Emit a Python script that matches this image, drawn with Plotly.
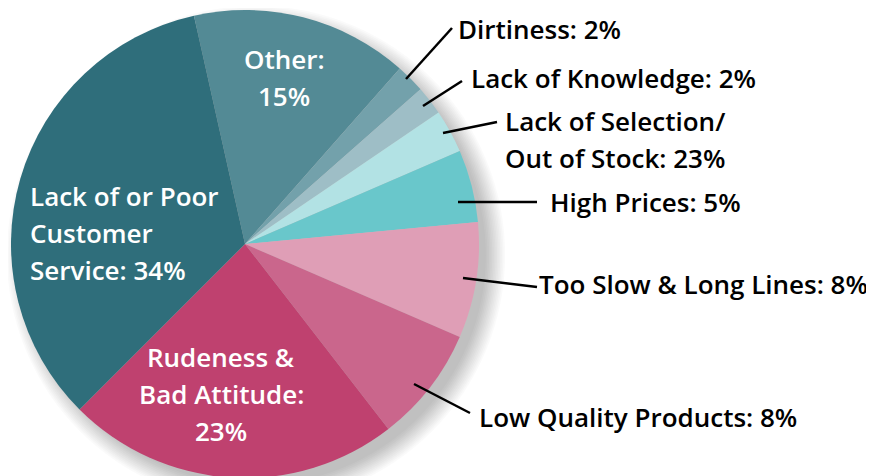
import plotly.graph_objects as go

# ---- data ----
categories = ["Other", "Dirtiness", "Lack of Knowledge", "Lack of Selection/Out of Stock",
              "High Prices", "Too Slow & Long Lines", "Low Quality Products",
              "Rudeness & Bad Attitude", "Lack of or Poor Customer Service"]
values = [15, 2, 2, 3, 5, 8, 8, 23, 34]
label_lines = [["Other:", "15%"], ["Dirtiness: 2%"], ["Lack of Knowledge: 2%"],
               ["Lack of Selection/", "Out of Stock: 23%"], ["High Prices: 5%"],
               ["Too Slow & Long Lines: 8%"], ["Low Quality Products: 8%"],
               ["Rudeness &", "Bad Attitude:", "23%"],
               ["Lack of or Poor", "Customer", "Service: 34%"]]
colors = ["#538A95", "#73A1AB", "#9EBEC6", "#B2E2E4", "#69C7CB",
          "#DF9EB6", "#CA668C", "#BF416F", "#2F6E7B"]

# ---- layout / style (screen pixel positions) ----
W, H = 874, 476
OFF = 8          # default page body margin
CX, CY, R = 245, 244, 234
ROT = -12.6
FONT = "Open Sans"
FS = 26
LS = 37  # line spacing px

def px(x):
    return (x - OFF) / W

def py(y):
    return 1 - (y - OFF) / H

# inside labels: (anchor, x, first line y)
inside = {0: ("center", 284, 59), 7: ("center", 221, 357), 8: ("left", 28, 196)}
# outside labels: text x, text y, leader start x,y, leader end x,y
outside = {1: (456, 29, 406, 79, 452, 28),
           2: (469, 78, 423, 106, 462, 81),
           3: (503, 121, 443, 133, 497, 122),
           4: (548, 202, 458, 202, 537, 202),
           5: (537, 284, 463, 278, 537, 287),
           6: (477, 417, 414, 384, 470, 413)}

fig = go.Figure(go.Pie(
    labels=categories, values=values, sort=False, direction="clockwise",
    rotation=ROT, marker=dict(colors=colors, line=dict(width=0)),
    textinfo="none", hoverinfo="label+percent", showlegend=False,
    domain=dict(x=[px(CX - R), px(CX + R)], y=[py(CY + R), py(CY - R)]),
))

shapes = []
# soft drop shadow (stacked translucent circles)
SO = 11
for k in range(13):
    rr = R - 4 + 1.6 * k
    sx, sy = CX + SO, CY + SO
    shapes.append(dict(type="circle", xref="paper", yref="paper", layer="below",
                       x0=px(sx - rr), x1=px(sx + rr), y0=py(sy + rr), y1=py(sy - rr),
                       fillcolor="rgba(0,0,0,0.02)", line=dict(width=0)))

annotations = []
for i in range(len(values)):
    if i in inside:
        anchor, x, y0 = inside[i]
        for j, t in enumerate(label_lines[i]):
            annotations.append(dict(text=t, x=px(x), y=py(y0 + j * LS), xref="paper", yref="paper",
                                    xanchor=anchor, yanchor="middle", showarrow=False,
                                    font=dict(family=FONT, size=FS, color="white", weight=600)))
    else:
        tx, ty, sx, sy, ex, ey = outside[i]
        shapes.append(dict(type="line", xref="paper", yref="paper",
                           x0=px(sx), y0=py(sy), x1=px(ex), y1=py(ey),
                           line=dict(color="black", width=2.5)))
        for j, t in enumerate(label_lines[i]):
            annotations.append(dict(text=t, x=px(tx), y=py(ty + j * LS), xref="paper", yref="paper",
                                    xanchor="left", yanchor="middle", showarrow=False,
                                    font=dict(family=FONT, size=FS, color="black", weight=600)))

fig.update_layout(width=W, height=H, margin=dict(l=0, r=0, t=0, b=0),
                  paper_bgcolor="white", plot_bgcolor="white",
                  shapes=shapes, annotations=annotations)
fig.write_html("out.html")
